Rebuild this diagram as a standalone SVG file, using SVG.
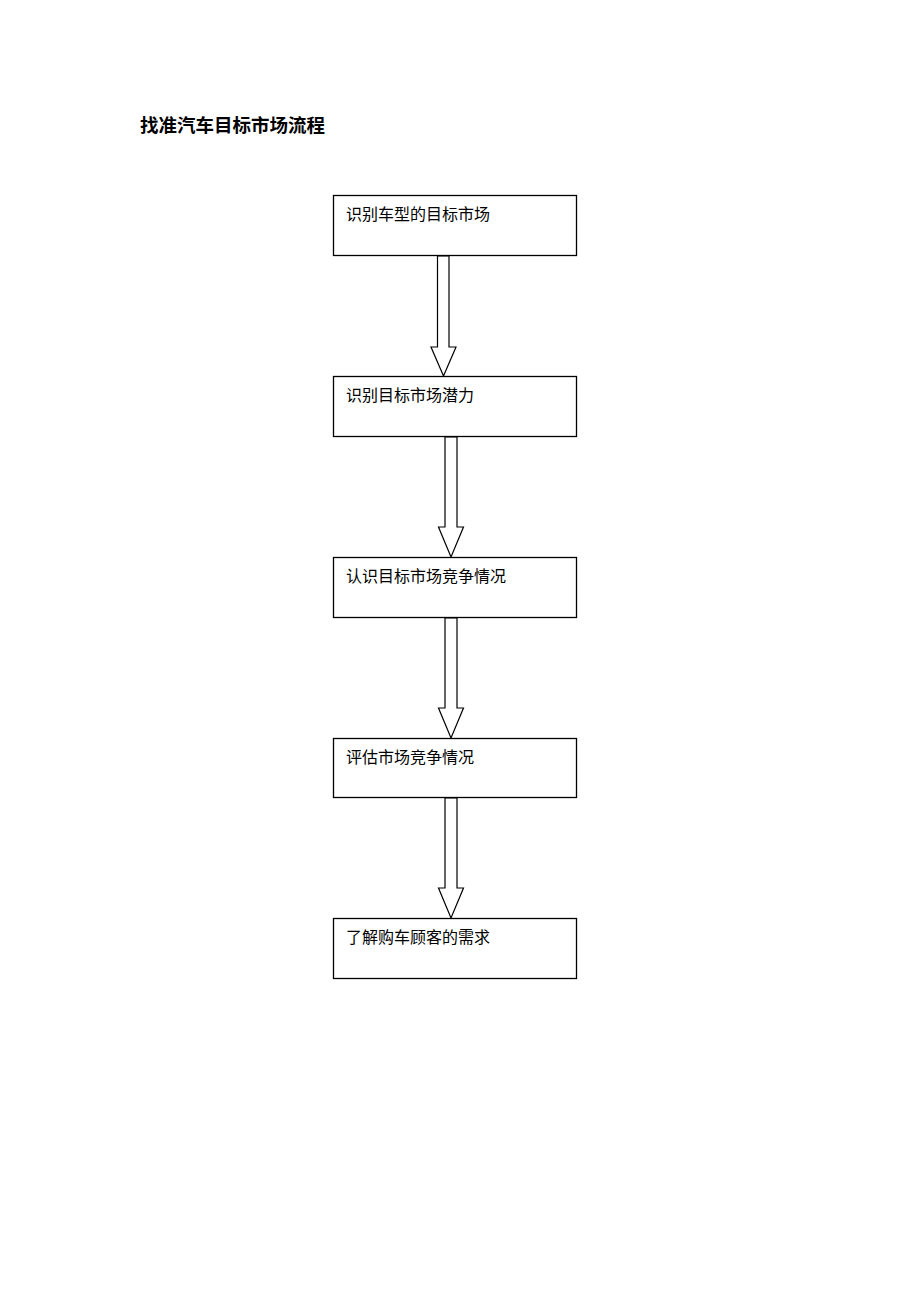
<svg xmlns="http://www.w3.org/2000/svg" width="920" height="1302" viewBox="0 0 920 1302">
<style>
.box{fill:#fff;stroke:#000;stroke-width:1.3}
.arr{fill:#fff;stroke:#000;stroke-width:1.2;stroke-linejoin:miter}
.t{font-family:"Liberation Sans","Noto Sans CJK SC",sans-serif;font-size:16px;fill:#000}
.title{font-family:"Liberation Sans","Noto Sans CJK SC",sans-serif;font-size:18.5px;font-weight:bold;fill:#000}
</style>
<rect width="920" height="1302" fill="#fff"/>
<text class="title" x="140" y="132">找准汽车目标市场流程</text>
<g id="connectors">
<polygon class="arr" points="437.5,256 449,256 449,347 456,347 443.5,376 431,347 437.5,347"/>
<polygon class="arr" points="445,437 457,437 457,527 463.5,527 451,557 438.5,527 445,527"/>
<polygon class="arr" points="445,618 457,618 457,708 463.5,708 451,738 438.5,708 445,708"/>
<polygon class="arr" points="445,798 457,798 457,888 463.5,888 451,918 438.5,888 445,888"/>
</g>
<g id="n1"><rect class="box" x="333.5" y="195.5" width="243" height="60"/><text class="t" x="346" y="220">识别车型的目标市场</text></g>
<g id="n2"><rect class="box" x="333.5" y="376.5" width="243" height="60"/><text class="t" x="346" y="401">识别目标市场潜力</text></g>
<g id="n3"><rect class="box" x="333.5" y="557.5" width="243" height="60"/><text class="t" x="346" y="582">认识目标市场竞争情况</text></g>
<g id="n4"><rect class="box" x="333.5" y="738.5" width="243" height="59"/><text class="t" x="346" y="763">评估市场竞争情况</text></g>
<g id="n5"><rect class="box" x="333.5" y="918.5" width="243" height="60"/><text class="t" x="346" y="943">了解购车顾客的需求</text></g>
</svg>
